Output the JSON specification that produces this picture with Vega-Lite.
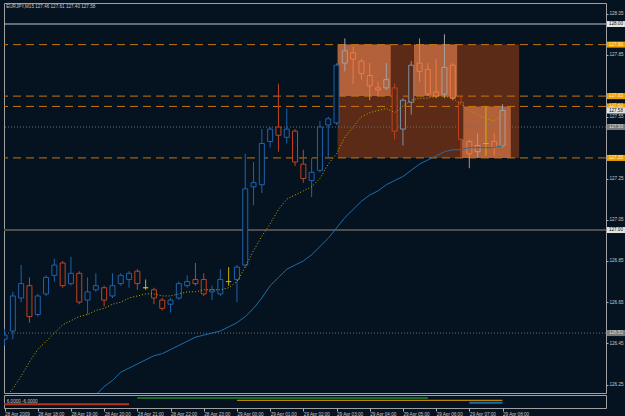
{
  "$schema": "https://vega.github.io/schema/vega-lite/v6.json",
  "background": "#051320",
  "padding": {"left": 2, "top": 2, "right": 0, "bottom": 0},
  "spacing": 0,
  "config": {
    "view": {"stroke": "#a0a0a0", "strokeWidth": 1},
    "font": "Liberation Sans",
    "scale": {"continuousPadding": 0},
    "axis": {"labelFont": "Liberation Sans", "labelFontSize": 4.6, "labelColor": "#c8c8c8", "tickColor": "#b0b0b0", "domain": false, "grid": false, "title": null, "labelOverlap": false, "labelFlush": false}
  },
  "datasets": {
    "candles": [
      {"t":"2009-04-28T17:00","o":126.47,"h":126.52,"l":126.44,"c":126.49,"f":126.18,"s":null},
      {"t":"2009-04-28T17:15","o":126.51,"h":126.70,"l":126.47,"c":126.68,"f":126.23,"s":null},
      {"t":"2009-04-28T17:30","o":126.67,"h":126.83,"l":126.65,"c":126.74,"f":126.29,"s":null},
      {"t":"2009-04-28T17:45","o":126.73,"h":126.77,"l":126.55,"c":126.58,"f":126.36,"s":null},
      {"t":"2009-04-28T18:00","o":126.59,"h":126.69,"l":126.58,"c":126.68,"f":126.42,"s":null},
      {"t":"2009-04-28T18:15","o":126.69,"h":126.78,"l":126.68,"c":126.77,"f":126.46,"s":null},
      {"t":"2009-04-28T18:30","o":126.78,"h":126.86,"l":126.75,"c":126.83,"f":126.50,"s":null},
      {"t":"2009-04-28T18:45","o":126.84,"h":126.85,"l":126.72,"c":126.73,"f":126.54,"s":null},
      {"t":"2009-04-28T19:00","o":126.74,"h":126.87,"l":126.73,"c":126.79,"f":126.56,"s":null},
      {"t":"2009-04-28T19:15","o":126.79,"h":126.80,"l":126.64,"c":126.65,"f":126.58,"s":null},
      {"t":"2009-04-28T19:30","o":126.66,"h":126.77,"l":126.59,"c":126.70,"f":126.59,"s":126.17},
      {"t":"2009-04-28T19:45","o":126.71,"h":126.79,"l":126.70,"c":126.73,"f":126.61,"s":126.20},
      {"t":"2009-04-28T20:00","o":126.72,"h":126.73,"l":126.63,"c":126.66,"f":126.62,"s":126.24},
      {"t":"2009-04-28T20:15","o":126.68,"h":126.79,"l":126.67,"c":126.73,"f":126.64,"s":126.27},
      {"t":"2009-04-28T20:30","o":126.74,"h":126.79,"l":126.73,"c":126.78,"f":126.65,"s":126.31},
      {"t":"2009-04-28T20:45","o":126.76,"h":126.80,"l":126.72,"c":126.79,"f":126.67,"s":126.33},
      {"t":"2009-04-28T21:00","o":126.80,"h":126.81,"l":126.71,"c":126.74,"f":126.68,"s":126.35},
      {"t":"2009-04-28T21:15","o":126.72,"h":126.76,"l":126.71,"c":126.72,"f":126.69,"s":126.37},
      {"t":"2009-04-28T21:30","o":126.71,"h":126.72,"l":126.64,"c":126.67,"f":126.69,"s":126.39},
      {"t":"2009-04-28T21:45","o":126.66,"h":126.67,"l":126.61,"c":126.62,"f":126.68,"s":126.40},
      {"t":"2009-04-28T22:00","o":126.64,"h":126.67,"l":126.60,"c":126.66,"f":126.68,"s":126.42},
      {"t":"2009-04-28T22:15","o":126.67,"h":126.75,"l":126.66,"c":126.74,"f":126.69,"s":126.44},
      {"t":"2009-04-28T22:30","o":126.73,"h":126.78,"l":126.72,"c":126.75,"f":126.70,"s":126.46},
      {"t":"2009-04-28T22:45","o":126.76,"h":126.84,"l":126.73,"c":126.74,"f":126.70,"s":126.48},
      {"t":"2009-04-28T23:00","o":126.76,"h":126.79,"l":126.68,"c":126.69,"f":126.71,"s":126.49},
      {"t":"2009-04-28T23:15","o":126.70,"h":126.73,"l":126.66,"c":126.71,"f":126.71,"s":126.50},
      {"t":"2009-04-28T23:30","o":126.69,"h":126.81,"l":126.68,"c":126.76,"f":126.71,"s":126.51},
      {"t":"2009-04-28T23:45","o":126.75,"h":126.82,"l":126.73,"c":126.75,"f":126.72,"s":126.53},
      {"t":"2009-04-29T00:00","o":126.76,"h":126.83,"l":126.65,"c":126.82,"f":126.75,"s":126.55},
      {"t":"2009-04-29T00:15","o":126.83,"h":127.37,"l":126.82,"c":127.20,"f":126.82,"s":126.58},
      {"t":"2009-04-29T00:30","o":127.21,"h":127.33,"l":127.12,"c":127.23,"f":126.90,"s":126.62},
      {"t":"2009-04-29T00:45","o":127.22,"h":127.49,"l":127.18,"c":127.42,"f":126.97,"s":126.67},
      {"t":"2009-04-29T01:00","o":127.43,"h":127.50,"l":127.40,"c":127.49,"f":127.03,"s":126.73},
      {"t":"2009-04-29T01:15","o":127.50,"h":127.71,"l":127.38,"c":127.46,"f":127.10,"s":126.77},
      {"t":"2009-04-29T01:30","o":127.45,"h":127.59,"l":127.42,"c":127.49,"f":127.15,"s":126.81},
      {"t":"2009-04-29T01:45","o":127.48,"h":127.49,"l":127.31,"c":127.33,"f":127.17,"s":126.83},
      {"t":"2009-04-29T02:00","o":127.32,"h":127.39,"l":127.23,"c":127.25,"f":127.19,"s":126.85},
      {"t":"2009-04-29T02:15","o":127.24,"h":127.35,"l":127.16,"c":127.28,"f":127.21,"s":126.88},
      {"t":"2009-04-29T02:30","o":127.29,"h":127.53,"l":127.28,"c":127.50,"f":127.25,"s":126.92},
      {"t":"2009-04-29T02:45","o":127.51,"h":127.55,"l":127.35,"c":127.54,"f":127.32,"s":126.96},
      {"t":"2009-04-29T03:00","o":127.52,"h":127.81,"l":127.51,"c":127.80,"f":127.37,"s":127.01},
      {"t":"2009-04-29T03:15","o":127.81,"h":127.93,"l":127.77,"c":127.87,"f":127.45,"s":127.06},
      {"t":"2009-04-29T03:30","o":127.86,"h":127.89,"l":127.71,"c":127.83,"f":127.50,"s":127.10},
      {"t":"2009-04-29T03:45","o":127.82,"h":127.83,"l":127.73,"c":127.76,"f":127.55,"s":127.14},
      {"t":"2009-04-29T04:00","o":127.75,"h":127.81,"l":127.63,"c":127.70,"f":127.57,"s":127.17},
      {"t":"2009-04-29T04:15","o":127.69,"h":127.72,"l":127.65,"c":127.68,"f":127.58,"s":127.19},
      {"t":"2009-04-29T04:30","o":127.69,"h":127.81,"l":127.68,"c":127.73,"f":127.59,"s":127.22},
      {"t":"2009-04-29T04:45","o":127.69,"h":127.71,"l":127.44,"c":127.48,"f":127.57,"s":127.24},
      {"t":"2009-04-29T05:00","o":127.49,"h":127.64,"l":127.41,"c":127.63,"f":127.60,"s":127.26},
      {"t":"2009-04-29T05:15","o":127.62,"h":127.82,"l":127.56,"c":127.80,"f":127.63,"s":127.29},
      {"t":"2009-04-29T05:30","o":127.81,"h":127.93,"l":127.72,"c":127.77,"f":127.64,"s":127.32},
      {"t":"2009-04-29T05:45","o":127.78,"h":127.81,"l":127.65,"c":127.66,"f":127.64,"s":127.34},
      {"t":"2009-04-29T06:00","o":127.67,"h":127.83,"l":127.64,"c":127.65,"f":127.65,"s":127.36},
      {"t":"2009-04-29T06:15","o":127.66,"h":127.95,"l":127.64,"c":127.79,"f":127.65,"s":127.38},
      {"t":"2009-04-29T06:30","o":127.80,"h":127.81,"l":127.63,"c":127.64,"f":127.64,"s":127.39},
      {"t":"2009-04-29T06:45","o":127.62,"h":127.65,"l":127.35,"c":127.44,"f":127.61,"s":127.39},
      {"t":"2009-04-29T07:00","o":127.43,"h":127.44,"l":127.30,"c":127.37,"f":127.58,"s":127.40},
      {"t":"2009-04-29T07:15","o":127.38,"h":127.47,"l":127.35,"c":127.41,"f":127.56,"s":127.40},
      {"t":"2009-04-29T07:30","o":127.42,"h":127.60,"l":127.36,"c":127.42,"f":127.54,"s":127.40},
      {"t":"2009-04-29T07:45","o":127.43,"h":127.47,"l":127.36,"c":127.40,"f":127.53,"s":127.40},
      {"t":"2009-04-29T08:00","o":127.41,"h":127.61,"l":127.40,"c":127.58,"f":127.56,"s":127.41}
    ],
    "boxes": [
      {"t1":"2009-04-29T03:02","t2":"2009-04-29T08:30","p1":127.90,"p2":127.35,"k":"dark"},
      {"t1":"2009-04-29T03:02","t2":"2009-04-29T04:38","p1":127.90,"p2":127.65,"k":"light"},
      {"t1":"2009-04-29T05:20","t2":"2009-04-29T06:38","p1":127.90,"p2":127.65,"k":"light"},
      {"t1":"2009-04-29T06:47","t2":"2009-04-29T08:15","p1":127.60,"p2":127.35,"k":"light"}
    ],
    "levels": [
      {"p":128.00,"k":"solid"},{"p":127.90,"k":"dash"},{"p":127.65,"k":"dash"},{"p":127.60,"k":"dash"},
      {"p":127.50,"k":"dot"},{"p":127.35,"k":"dash"},{"p":127.00,"k":"thick"},{"p":126.50,"k":"dot"}
    ],
    "tags": [
      {"p":128.00,"k":"w"},{"p":127.90,"k":"o"},{"p":127.65,"k":"o"},{"p":127.60,"k":"o"},
      {"p":127.50,"k":"g"},{"p":127.35,"k":"o"},{"p":127.00,"k":"w"},{"p":126.50,"k":"g"},{"p":127.58,"k":"w"}
    ],
    "sessions": [
      {"a":"2009-04-28T16:59","b":"2009-04-28T20:45","v":3.7,"k":"red"},
      {"a":"2009-04-28T21:00","b":"2009-04-29T05:45","v":10,"k":"green"},
      {"a":"2009-04-29T00:00","b":"2009-04-29T08:00","v":7.7,"k":"orange"},
      {"a":"2009-04-29T07:00","b":"2009-04-29T08:00","v":5.3,"k":"blue"}
    ]
  },
  "vconcat": [
    {
      "width": 602,
      "height": 390,
      "layer": [
        {
          "data": {"name": "boxes"},
          "transform": [{"filter": "datum.k == 'dark'"}],
          "mark": {"type": "rect", "fill": "#5c2b17", "clip": true},
          "encoding": {
            "x": {"field": "t1", "type": "temporal", "axis": null, "scale": {"padding": 0, "domain": [{"year":2009,"month":4,"date":28,"hours":16,"minutes":59},{"year":2009,"month":4,"date":29,"hours":11,"minutes":7}]}},
            "x2": {"field": "t2"},
            "y": {"field": "p1", "type": "quantitative", "scale": {"domain": [126.209, 128.102], "nice": false, "zero": false, "padding": 0},
                  "axis": {"orient": "right", "values": [128.05,127.95,127.85,127.75,127.55,127.45,127.25,127.15,127.05,126.95,126.85,126.75,126.65,126.55,126.45,126.35,126.25], "format": ".2f", "tickSize": 2, "labelPadding": 1}},
            "y2": {"field": "p2"}
          }
        },
        {
          "data": {"name": "boxes"},
          "transform": [{"filter": "datum.k == 'light'"}],
          "mark": {"type": "rect", "fill": "#b3613a", "clip": true},
          "encoding": {
            "x": {"field": "t1", "type": "temporal", "axis": null},
            "x2": {"field": "t2"},
            "y": {"field": "p1", "type": "quantitative"},
            "y2": {"field": "p2"}
          }
        },
        {
          "data": {"name": "levels"},
          "transform": [{"filter": "datum.k == 'solid'"}],
          "mark": {"type": "rule", "color": "#c4c4c4", "strokeWidth": 1},
          "encoding": {"y": {"field": "p", "type": "quantitative"}}
        },
        {
          "data": {"name": "levels"},
          "transform": [{"filter": "datum.k == 'thick'"}],
          "mark": {"type": "rule", "color": "#4e4e4e", "strokeWidth": 2},
          "encoding": {"y": {"field": "p", "type": "quantitative"}}
        },
        {
          "data": {"name": "levels"},
          "transform": [{"filter": "datum.k == 'dot'"}],
          "mark": {"type": "rule", "color": "#6e6e6e", "strokeWidth": 1, "strokeDash": [1, 2]},
          "encoding": {"y": {"field": "p", "type": "quantitative"}}
        },
        {
          "data": {"name": "levels"},
          "transform": [{"filter": "datum.k == 'dash'"}],
          "mark": {"type": "rule", "color": "#c87410", "strokeWidth": 1, "strokeDash": [8, 5]},
          "encoding": {"y": {"field": "p", "type": "quantitative"}}
        },
        {
          "data": {"name": "candles", "format": {"parse": {"t": "date"}}},
          "mark": {"type": "rule", "strokeWidth": 1, "clip": true},
          "encoding": {
            "x": {"field": "t", "type": "temporal", "axis": null},
            "y": {"field": "l", "type": "quantitative"},
            "y2": {"field": "h"},
            "color": {"condition": [
              {"test": "date(datum.t) == 29 && ((hours(datum.t)*60+minutes(datum.t) >= 190 && hours(datum.t)*60+minutes(datum.t) <= 275) || (hours(datum.t)*60+minutes(datum.t) >= 325 && hours(datum.t)*60+minutes(datum.t) <= 395) || (hours(datum.t)*60+minutes(datum.t) >= 415 && hours(datum.t)*60+minutes(datum.t) <= 490)) && datum.c > datum.o", "value": "#a2a2a2"},
              {"test": "date(datum.t) == 29 && ((hours(datum.t)*60+minutes(datum.t) >= 190 && hours(datum.t)*60+minutes(datum.t) <= 275) || (hours(datum.t)*60+minutes(datum.t) >= 325 && hours(datum.t)*60+minutes(datum.t) <= 395) || (hours(datum.t)*60+minutes(datum.t) >= 415 && hours(datum.t)*60+minutes(datum.t) <= 490)) && datum.c < datum.o", "value": "#ee7a42"},
              {"test": "date(datum.t) == 29 && hours(datum.t)*60+minutes(datum.t) >= 190 && hours(datum.t)*60+minutes(datum.t) <= 505 && datum.c > datum.o", "value": "#7d8fa8"},
              {"test": "datum.c > datum.o", "value": "#2062aa"},
              {"test": "datum.c < datum.o", "value": "#c4401c"}], "value": "#c8b400"}
          }
        },
        {
          "data": {"name": "candles", "format": {"parse": {"t": "date"}}},
          "mark": {"type": "bar", "size": 5, "strokeWidth": 1, "clip": true},
          "encoding": {
            "x": {"field": "t", "type": "temporal", "axis": null},
            "y": {"field": "o", "type": "quantitative"},
            "y2": {"field": "c"},
            "fill": {"condition": [
              {"test": "date(datum.t) == 29 && ((hours(datum.t)*60+minutes(datum.t) >= 190 && hours(datum.t)*60+minutes(datum.t) <= 275) || (hours(datum.t)*60+minutes(datum.t) >= 325 && hours(datum.t)*60+minutes(datum.t) <= 395) || (hours(datum.t)*60+minutes(datum.t) >= 415 && hours(datum.t)*60+minutes(datum.t) <= 490))", "value": "#b3613a"},
              {"test": "date(datum.t) == 29 && hours(datum.t)*60+minutes(datum.t) >= 190 && hours(datum.t)*60+minutes(datum.t) <= 505", "value": "#5c2b17"}], "value": "#051320"},
            "stroke": {"condition": [
              {"test": "date(datum.t) == 29 && ((hours(datum.t)*60+minutes(datum.t) >= 190 && hours(datum.t)*60+minutes(datum.t) <= 275) || (hours(datum.t)*60+minutes(datum.t) >= 325 && hours(datum.t)*60+minutes(datum.t) <= 395) || (hours(datum.t)*60+minutes(datum.t) >= 415 && hours(datum.t)*60+minutes(datum.t) <= 490)) && datum.c > datum.o", "value": "#a2a2a2"},
              {"test": "date(datum.t) == 29 && ((hours(datum.t)*60+minutes(datum.t) >= 190 && hours(datum.t)*60+minutes(datum.t) <= 275) || (hours(datum.t)*60+minutes(datum.t) >= 325 && hours(datum.t)*60+minutes(datum.t) <= 395) || (hours(datum.t)*60+minutes(datum.t) >= 415 && hours(datum.t)*60+minutes(datum.t) <= 490)) && datum.c < datum.o", "value": "#ee7a42"},
              {"test": "date(datum.t) == 29 && hours(datum.t)*60+minutes(datum.t) >= 190 && hours(datum.t)*60+minutes(datum.t) <= 505 && datum.c > datum.o", "value": "#7d8fa8"},
              {"test": "datum.c > datum.o", "value": "#2062aa"},
              {"test": "datum.c < datum.o", "value": "#c4401c"}], "value": "#c8b400"}
          }
        },
        {
          "data": {"name": "candles", "format": {"parse": {"t": "date"}}},
          "mark": {"type": "line", "color": "#1c6ea8", "strokeWidth": 1, "clip": true},
          "encoding": {
            "x": {"field": "t", "type": "temporal", "axis": null},
            "y": {"field": "s", "type": "quantitative"}
          }
        },
        {
          "data": {"name": "candles", "format": {"parse": {"t": "date"}}},
          "mark": {"type": "line", "color": "#c0aa00", "strokeWidth": 1, "strokeDash": [1, 2], "clip": true},
          "encoding": {
            "x": {"field": "t", "type": "temporal", "axis": null},
            "y": {"field": "f", "type": "quantitative"}
          }
        },
        {
          "data": {"name": "tags"},
          "mark": {"type": "tick", "orient": "horizontal", "size": 18, "thickness": 6, "opacity": 1, "clip": false},
          "encoding": {
            "x": {"datum": {"year":2009,"month":4,"date":29,"hours":11,"minutes":25}, "type": "temporal", "axis": null},
            "y": {"field": "p", "type": "quantitative"},
            "color": {"condition": [{"test": "datum.k == 'o'", "value": "#f0a000"}, {"test": "datum.k == 'g'", "value": "#7a7a7a"}], "value": "#e4e4e4"}
          }
        },
        {
          "data": {"name": "tags"},
          "mark": {"type": "text", "fontSize": 4.6, "align": "center", "baseline": "middle", "clip": false},
          "encoding": {
            "x": {"datum": {"year":2009,"month":4,"date":29,"hours":11,"minutes":25}, "type": "temporal", "axis": null},
            "y": {"field": "p", "type": "quantitative"},
            "text": {"field": "p", "type": "quantitative", "format": ".2f"},
            "color": {"condition": [{"test": "datum.k == 'o'", "value": "#fff2c8"}, {"test": "datum.k == 'g'", "value": "#dcdcdc"}], "value": "#101010"}
          }
        },
        {
          "data": {"values": [{"lab": "EURJPY,M15  127.46 127.61 127.40 127.58"}]},
          "mark": {"type": "text", "fontSize": 4.6, "align": "left", "baseline": "middle", "color": "#c8c8c8"},
          "encoding": {
            "x": {"datum": {"year":2009,"month":4,"date":28,"hours":17,"minutes":3}, "type": "temporal", "axis": null},
            "y": {"datum": 128.083, "type": "quantitative"},
            "text": {"field": "lab"}
          }
        }
      ]
    },
    {
      "width": 602,
      "height": 13,
      "layer": [
        {
          "data": {"name": "sessions"},
          "mark": {"type": "rule", "clip": true},
          "encoding": {
            "x": {"field": "a", "type": "temporal",
                  "scale": {"padding": 0, "domain": [{"year":2009,"month":4,"date":28,"hours":16,"minutes":59},{"year":2009,"month":4,"date":29,"hours":11,"minutes":7}]},
                  "axis": {"orient": "bottom", "values": [
                    {"year":2009,"month":4,"date":28,"hours":17},{"year":2009,"month":4,"date":28,"hours":18},{"year":2009,"month":4,"date":28,"hours":19},{"year":2009,"month":4,"date":28,"hours":20},
                    {"year":2009,"month":4,"date":28,"hours":21},{"year":2009,"month":4,"date":28,"hours":22},{"year":2009,"month":4,"date":28,"hours":23},{"year":2009,"month":4,"date":29,"hours":0},
                    {"year":2009,"month":4,"date":29,"hours":1},{"year":2009,"month":4,"date":29,"hours":2},{"year":2009,"month":4,"date":29,"hours":3},{"year":2009,"month":4,"date":29,"hours":4},
                    {"year":2009,"month":4,"date":29,"hours":5},{"year":2009,"month":4,"date":29,"hours":6},{"year":2009,"month":4,"date":29,"hours":7},{"year":2009,"month":4,"date":29,"hours":8}],
                    "labelExpr": "hours(datum.value) == 17 ? '28 Apr 2009' : timeFormat(datum.value, '%d %b %H:%M')",
                    "labelAlign": "left", "labelBaseline": "top", "labelPadding": 0, "tickSize": 3}},
            "x2": {"field": "b"},
            "y": {"field": "v", "type": "quantitative", "scale": {"domain": [0, 13], "nice": false, "zero": false}, "axis": null},
            "color": {"field": "k", "type": "nominal", "legend": null, "scale": {"domain": ["red", "green", "orange", "blue"], "range": ["#b8341c", "#2ec42e", "#e8a000", "#1a6cb0"]}},
            "strokeWidth": {"condition": {"test": "datum.k == 'red' || datum.k == 'blue'", "value": 2}, "value": 1}
          }
        },
        {
          "data": {"values": [{"lab": "6.0000 -6.0000"}]},
          "mark": {"type": "text", "fontSize": 4.6, "align": "left", "baseline": "middle", "color": "#c8c8c8"},
          "encoding": {
            "x": {"datum": {"year":2009,"month":4,"date":28,"hours":17,"minutes":4}, "type": "temporal"},
            "y": {"datum": 6.5, "type": "quantitative"},
            "text": {"field": "lab"}
          }
        }
      ]
    }
  ]
}
